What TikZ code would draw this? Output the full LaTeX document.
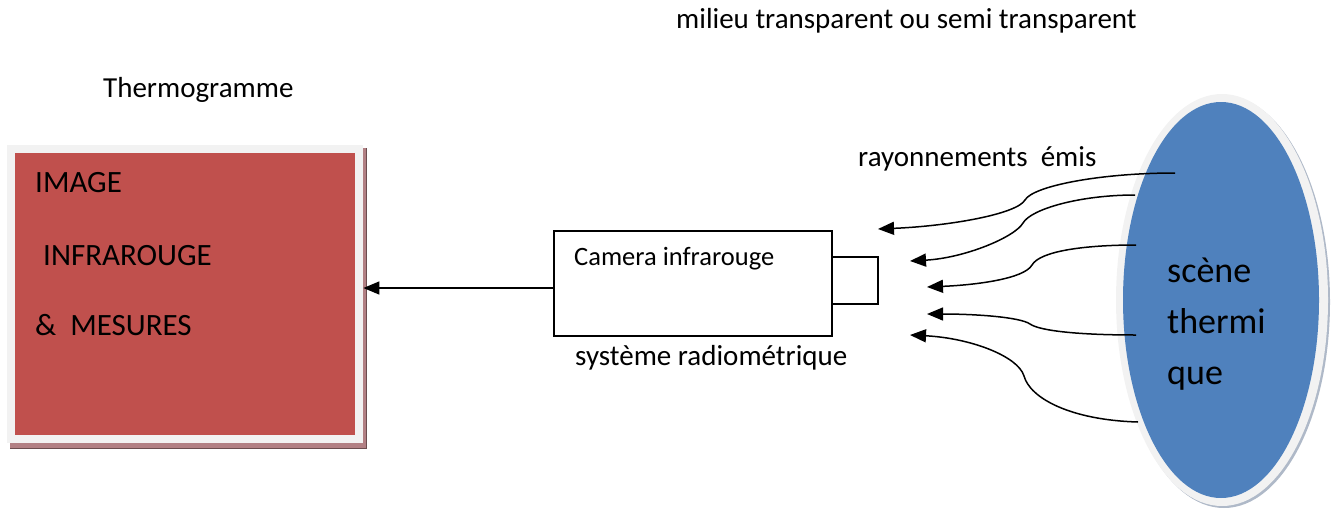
\documentclass[tikz,border=0pt]{standalone}
\usepackage{fontspec}
\setmainfont{Carlito}
\usetikzlibrary{arrows.meta,shapes.geometric}

\definecolor{boxred}{RGB}{192,80,77}
\definecolor{sceneblue}{RGB}{79,129,189}
\definecolor{ringgray}{RGB}{242,242,242}
\definecolor{redshadow}{RGB}{178,128,132}
\definecolor{blueshadow}{RGB}{175,185,200}

\tikzset{
  lbl/.style={inner sep=0pt, anchor=base west, font=\fontsize{29}{35}\selectfont},
  boxlbl/.style={inner sep=0pt, anchor=base west, font=\fontsize{31}{37}\selectfont},
  scenelbl/.style={inner sep=0pt, anchor=base west, font=\fontsize{36}{51}\selectfont},
  outline/.style={draw=black, line width=1.5pt, fill=white, inner sep=0pt, anchor=north west},
  ray/.style={line width=1.5pt, -{Triangle[length=16pt,width=13pt]}},
}

\begin{document}
\begin{tikzpicture}[x=1pt, y=-1pt]
\useasboundingbox (0,0) rectangle (1338,509);

% thermogram panel: shadow, light frame, red face
\fill[redshadow] (10,148) rectangle (366,448);
\draw[redshadow!60!black, line width=0.6pt] (10,448) -- (366,448) -- (366,148);
\node[fill=ringgray, inner sep=0pt, anchor=north west,
      minimum width=356pt, minimum height=298pt] (frame) at (7,145) {};
\node[fill=boxred, inner sep=0pt, anchor=north west,
      minimum width=340pt, minimum height=282pt] (panel) at (15,153) {};
\node[boxlbl] (l1) at (35,192) {IMAGE};
\node[boxlbl] (l2) at (43,265) {INFRAROUGE};
\node[boxlbl] (l3) at (35,335) {\&\ \ MESURES};

% thermal scene: shadow, light ring, blue body
\fill[blueshadow] (1224,302) ellipse [x radius=106pt, y radius=206pt];
\fill[ringgray] (1222,300) ellipse [x radius=106pt, y radius=206pt];
\node[fill=sceneblue, ellipse, inner sep=0pt, minimum width=196pt,
      minimum height=396pt] (scene) at (1221,300) {};
\node[scenelbl] (s1) at (1167,282) {scène};
\node[scenelbl] (s2) at (1167,333) {thermi};
\node[scenelbl] (s3) at (1167,384) {que};

% camera body and lens
\node[outline, minimum width=278pt, minimum height=105pt] (cam) at (553,230) {};
\node[outline, minimum width=46pt, minimum height=47pt] (lens) at (831,256) {};
\node[inner sep=0pt, anchor=base west, font=\fontsize{26.5}{32}\selectfont] (camtxt) at (574,265) {Camera infrarouge};

% labels
\node[lbl] (milieu) at (676,28) {milieu transparent ou semi transparent};
\node[lbl] (thermo) at (103,97) {Thermogramme};
\node[lbl] (rayon) at (858,166) {rayonnements\ \ émis};
\node[lbl] (radio) at (575,365) {système radiométrique};

% camera output to the thermogram
\coordinate (camout) at (553,288);
\draw[ray] (camout) -- (camout -| frame.east);

% emitted radiation leaving the scene
\coordinate (a1) at (1175,173); \coordinate (k1) at (1025,200); \coordinate (t1) at (878,229);
\coordinate (a2) at (1135,195); \coordinate (k2) at (1023,223); \coordinate (t2) at (910,261);
\coordinate (a3) at (1136,245); \coordinate (k3) at (1032,265); \coordinate (t3) at (927,287);
\coordinate (a4) at (1136,335); \coordinate (k4) at (1030,324); \coordinate (t4) at (927,314);
\coordinate (a5) at (1138,422); \coordinate (k5) at (1024,376); \coordinate (t5) at (910,335);

\draw[ray] (a1) .. controls (1100,173) and (1033,186) .. (k1)
                .. controls (1017,214) and (950,226) .. (t1);
\draw[ray] (a2) .. controls (1080,195) and (1031,209) .. (k2)
                .. controls (1015,237) and (965,258) .. (t2);
\draw[ray] (a3) .. controls (1085,245) and (1040,251) .. (k3)
                .. controls (1024,279) and (975,285) .. (t3);
\draw[ray] (a4) .. controls (1080,335) and (1040,331) .. (k4)
                .. controls (1020,317) and (975,314) .. (t4);
\draw[ray] (a5) .. controls (1070,420) and (1030,398) .. (k5)
                .. controls (1018,356) and (970,338) .. (t5);
\end{tikzpicture}
\end{document}
